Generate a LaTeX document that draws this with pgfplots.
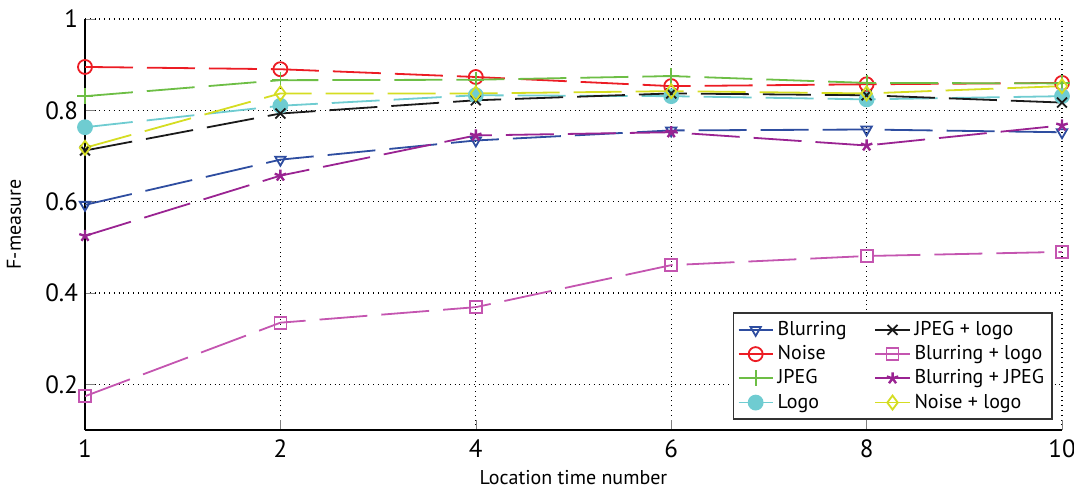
\documentclass[border=0pt]{standalone}
\usepackage{fontspec}
\setmainfont{PT Sans}
\usepackage{pgfplots}
\pgfplotsset{compat=1.18}
\usetikzlibrary{plotmarks}
\definecolor{cBlur}{HTML}{2E4DA0}
\definecolor{cNoise}{HTML}{EC1C24}
\definecolor{cJpeg}{HTML}{6DBE45}
\definecolor{cLogo}{HTML}{6FCCD1}
\definecolor{cJL}{HTML}{1A1A1A}
\definecolor{cBL}{HTML}{C455B0}
\definecolor{cBJ}{HTML}{9A2392}
\definecolor{cNL}{HTML}{D5DD22}
\begin{document}
\begin{tikzpicture}
\begin{axis}[
  at={(0,0)}, anchor=south west,
  scale only axis,
  width=488.5pt, height=205.5pt,
  xmin=0, xmax=5, ymin=0.1, ymax=1,
  xtick={0,1,2,3,4,5},
  xticklabels={1,2,4,6,8,10},
  ytick={0.2,0.4,0.6,0.8,1},
  yticklabels={0.2,0.4,0.6,0.8,1},
  axis lines*=left,
  axis line style={-, line width=0.8pt},
  tick align=inside,
  major tick length=5pt,
  grid=major,
  major grid style={dotted, black, line width=0.6pt},
  tick label style={font=\fontsize{12.5}{13}\selectfont},
  xticklabel style={yshift=-1.5pt},
  /pgf/number format/assume math mode=true,
  xlabel={Location time number},
  ylabel={F-measure},
  label style={font=\fontsize{12}{13}\selectfont},
  every axis x label/.style={at={(rel axis cs:0.5,0)}, anchor=center, yshift=-24pt},
  every axis y label/.style={at={(rel axis cs:0,0.5)}, rotate=90, anchor=center, yshift=35.5pt},
  every axis plot/.append style={line width=0.9pt, dash pattern=on 24pt off 7pt},
  legend columns=4,
  transpose legend,
  legend style={at={(rel axis cs:1,0)}, anchor=south east, xshift=-4.5pt, yshift=5pt,
    font=\fontsize{10}{12}\selectfont, draw=black!80, line width=0.8pt,
    /tikz/column 2/.style={column sep=12pt},
    row sep=-0.5pt, inner sep=2pt},
  legend cell align=left,
  legend image post style={solid},
]
\addplot[color=cBlur, mark=triangle, mark size=3pt, mark options={solid, rotate=180}]
  coordinates {(0,0.593) (1,0.692) (2,0.734) (3,0.756) (4,0.758) (5,0.752)};
\addlegendentry{Blurring}
\addplot[color=cNoise, mark=o, mark size=3.5pt, mark options={solid}]
  coordinates {(0,0.895) (1,0.890) (2,0.873) (3,0.853) (4,0.857) (5,0.860)};
\addlegendentry{Noise}
\addplot[color=cJpeg, mark=+, mark size=4pt, mark options={solid}]
  coordinates {(0,0.831) (1,0.866) (2,0.867) (3,0.875) (4,0.860) (5,0.859)};
\addlegendentry{JPEG}
\addplot[color=cLogo, mark=*, mark size=3.5pt, mark options={solid, fill=cLogo}]
  coordinates {(0,0.763) (1,0.810) (2,0.833) (3,0.831) (4,0.824) (5,0.831)};
\addlegendentry{Logo}
\addplot[color=cJL, mark=x, mark size=3.5pt, mark options={solid}]
  coordinates {(0,0.712) (1,0.793) (2,0.822) (3,0.837) (4,0.833) (5,0.817)};
\addlegendentry{JPEG + logo}
\addplot[color=cBL, mark=square, mark size=3pt, mark options={solid}]
  coordinates {(0,0.174) (1,0.335) (2,0.369) (3,0.461) (4,0.481) (5,0.490)};
\addlegendentry{Blurring + logo}
\addplot[color=cBJ, mark=star, mark size=3pt, mark options={solid, line width=1.2pt}]
  coordinates {(0,0.525) (1,0.657) (2,0.745) (3,0.752) (4,0.723) (5,0.767)};
\addlegendentry{Blurring + JPEG}
\addplot[color=cNL, mark=diamond, mark size=3.5pt, mark options={solid}]
  coordinates {(0,0.718) (1,0.837) (2,0.837) (3,0.842) (4,0.837) (5,0.853)};
\addlegendentry{Noise + logo}
\end{axis}
\pgfresetboundingbox
\path (-42.5pt,-31pt) rectangle (494.5pt,215pt);
\end{tikzpicture}
\end{document}
